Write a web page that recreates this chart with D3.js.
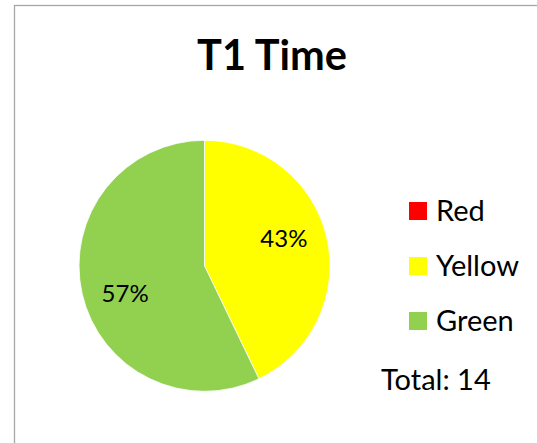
<!DOCTYPE html>
<html>
<head>
<meta charset="utf-8">
<script src="https://cdn.jsdelivr.net/npm/d3@7"></script>
<style>
	html, body { margin: 0; padding: 0; background: #fff; }
	svg { display: block; }
	text { font-family: Lato, "Open Sans", sans-serif; fill: #000; }
</style>
</head>
<body>
<div id="chart"></div>
<script>
// chart data
var categories = ['Red', 'Yellow', 'Green'];
var values     = [0, 6, 8];
var colors     = ['#ff0000', '#ffff00', '#92d050'];
var title      = 'T1 Time';

var width  = 537,
	height = 443;

var svg = d3.select('#chart').append('svg')
	.attr('width',  width)
	.attr('height', height);

// chart area border (right/bottom edges fall outside the picture)
svg.append('rect')
	.attr('x', 14.5)
	.attr('y', 5.5)
	.attr('width', 600)
	.attr('height', 600)
	.attr('fill', 'none')
	.attr('stroke', '#a6a6a6')
	.attr('stroke-width', 1.3);

svg.append('text')
	.attr('x', 272)
	.attr('y', 70)
	.attr('text-anchor', 'middle')
	.style('font-size', '41.5px')
	.style('font-weight', 'bold')
	.text(title);

var total = d3.sum(values);
var radius = 125.5;

var pie = d3.pie().sort(null).value(function(d) { return d.value; });
var slices = pie(categories.map(function(c, i) {
	return {label: c, value: values[i], color: colors[i]};
}));

var arc = d3.arc().innerRadius(0).outerRadius(radius);
var labelArc = d3.arc().innerRadius(84).outerRadius(84);
var labelShift = -0.11; // excel nudges labels a bit anticlockwise

var g = svg.append('g')
	.attr('transform', 'translate(204.5,265.8)');

g.selectAll('path')
	.data(slices.filter(function(d) { return d.value > 0; }))
	.enter().append('path')
	.attr('d', arc)
	.attr('fill', function(d) { return d.data.color; })
	.attr('stroke', '#ffffff')
	.attr('stroke-width', 0.8);

g.selectAll('text.pct')
	.data(slices.filter(function(d) { return d.value > 0; }))
	.enter().append('text')
	.attr('class', 'pct')
	.attr('transform', function(d) {
		var c = labelArc.centroid({startAngle: d.startAngle + labelShift, endAngle: d.endAngle + labelShift});
		return 'translate(' + c[0] + ',' + c[1] + ')';
	})
	.attr('dy', '0.36em')
	.attr('text-anchor', 'middle')
	.style('font-size', '24px')
	.text(function(d) { return Math.round(d.value / total * 100) + '%'; });

// legend
var legendY = d3.scalePoint()
	.domain(categories)
	.range([211, 321]);

var item = svg.append('g').attr('class', 'legend')
	.selectAll('g')
	.data(categories)
	.enter().append('g')
	.attr('transform', function(d) { return 'translate(409,' + legendY(d) + ')'; });

item.append('rect')
	.attr('x', 0)
	.attr('y', -9)
	.attr('width', 18)
	.attr('height', 18)
	.attr('fill', function(d, i) { return colors[i]; });

item.append('text')
	.attr('x', 27)
	.attr('y', 10)
	.style('font-size', '29px')
	.text(function(d) { return d; });

svg.append('text')
	.attr('x', 381)
	.attr('y', 390)
	.style('font-size', '29px')
	.text('Total: ' + total);
</script>
</body>
</html>
